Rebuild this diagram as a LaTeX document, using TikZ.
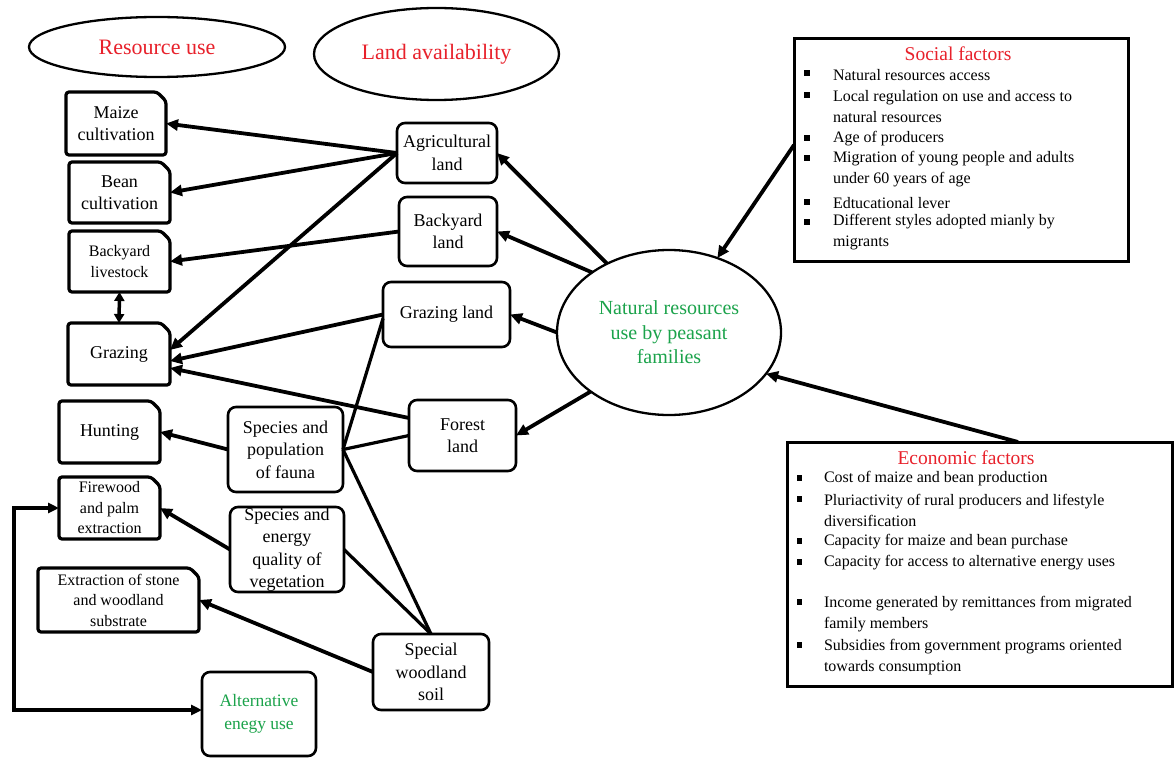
\documentclass[tikz,border=0pt]{standalone}
\usepackage{fontspec}
\setmainfont{Liberation Serif}
\usetikzlibrary{arrows.meta,shapes.geometric}
\definecolor{tred}{HTML}{E8212B}
\definecolor{tgreen}{HTML}{1BA34B}
\begin{document}
\begin{tikzpicture}[x=1pt,y=-1pt,
  every node/.style={inner sep=0pt, outer sep=0pt},
  lbox/.style={rectangle, align=center, font=\fontsize{18}{22.5}\selectfont},
  sbox/.style={rectangle, align=center, font=\fontsize{16}{20.5}\selectfont},
  snipline/.style={line width=3.2pt, rounded corners=3pt},
  rbox/.style={draw, line width=2.6pt, rounded corners=8pt, align=center, font=\fontsize{18}{22.5}\selectfont},
  oval/.style={draw, ellipse, line width=2.3pt, align=center},
  factbox/.style={draw, line width=3pt},
  item/.style={anchor=west, align=left, font=\fontsize{16}{21}\selectfont},
  bul/.style={fill=black, minimum size=5.5pt},
  ftitle/.style={text=tred, font=\fontsize{19.5}{23}\selectfont},
  arr/.style={line width=3.8pt, -{Triangle[length=12pt,width=11pt]}},
  arrboth/.style={line width=3.8pt, {Triangle[length=11pt,width=10pt]}-{Triangle[length=11pt,width=10pt]}},
  arrtwo/.style={line width=3.5pt, {Triangle[length=9pt,width=10pt]}-{Triangle[length=9pt,width=10pt]}},
  link/.style={line width=3.2pt}]
\useasboundingbox (0,0) rectangle (1174,757);
\fill[white] (0,0) rectangle (1174,757);

% top ellipses
\node[oval, minimum width=256pt, minimum height=60pt, text=tred, font=\fontsize{22}{26}\selectfont] (resuse) at (157,47) {Resource use};
\node[oval, minimum width=245pt, minimum height=92pt, text=tred, font=\fontsize{22}{26}\selectfont] (landav) at (436.5,54) {Land availability};

% left column (snipped boxes)
\node[lbox, minimum width=100pt, minimum height=63pt] (maize) at (116,123.5) {Maize\\cultivation};
\node[lbox, minimum width=101pt, minimum height=61pt] (bean) at (119.5,192.5) {Bean\\cultivation};
\node[sbox, minimum width=101pt, minimum height=61pt] (live) at (119.5,261.5) {Backyard\\livestock};
\node[lbox, minimum width=102pt, minimum height=62pt] (graz) at (119,354) {Grazing};
\node[lbox, minimum width=101pt, minimum height=62pt] (hunt) at (109.5,432) {Hunting};
\node[sbox, minimum width=101pt, minimum height=62pt] (fire) at (109.5,508) {Firewood\\and palm\\extraction};
\node[sbox, minimum width=161pt, minimum height=64pt] (extr) at (118.5,600) {Extraction of stone\\and woodland\\substrate};
\foreach \n in {maize,bean,live,graz,hunt,fire,extr}
  \draw[snipline] (\n.south west) -- (\n.north west) -- ([xshift=-9pt]\n.north east) -- ([yshift=-9pt]\n.north east) -- (\n.south east) -- cycle;

% middle boxes
\node[rbox, minimum width=100pt, minimum height=60pt] (agri) at (447,153) {Agricultural\\land};
\node[rbox, minimum width=98pt, minimum height=69pt] (backland) at (448,231.5) {Backyard\\land};
\node[rbox, minimum width=127pt, minimum height=65pt] (grazland) at (446.5,314.5) {Grazing land};
\node[rbox, minimum width=107pt, minimum height=71pt] (forest) at (462.5,435.5) {Forest\\land};
\node[rbox, minimum width=115pt, minimum height=85pt] (fauna) at (285.5,449.5) {Species and\\population\\of fauna};
\node[rbox, minimum width=114pt, minimum height=85pt] (veg) at (287,549.5) {Species and\\energy\\quality of\\vegetation};
\node[rbox, minimum width=116pt, minimum height=76pt] (soil) at (431,672) {Special\\woodland\\soil};
\node[rbox, minimum width=114pt, minimum height=84pt, text=tgreen, font=\fontsize{17.5}{23}\selectfont] (alt) at (259,714) {Alternative\\enegy use};

% central ellipse
\node[oval, minimum width=224pt, minimum height=165pt, text=tgreen, font=\fontsize{20}{24.5}\selectfont] (nat) at (669,332.5) {Natural resources\\use by peasant\\families};

% social factors
\node[factbox, minimum width=334pt, minimum height=222pt] (soc) at (961,150) {};
\node[ftitle] (soct) at (958,54) {Social factors};
\node[item] (s1) at (833,75) {Natural resources access};
\node[item] (s2) at (833,107) {Local regulation on use and access to\\natural resources};
\node[item] (s3) at (833,139) {Age of producers};
\node[item] (s4) at (833,169) {Migration of young people and adults\\under 60 years of age};
\node[item] (s5) at (833,203) {Edtucational lever};
\node[item] (s6) at (833,232.5) {Different styles adopted mianly by\\migrants};
\foreach \yy in {73,95,138,158,202,222}
  \node[bul] at (807,\yy) {};

% economic factors
\node[factbox, minimum width=385pt, minimum height=244pt] (eco) at (979.5,564) {};
\node[ftitle] (ecot) at (966,458) {Economic factors};
\node[item] (e1) at (824,479) {Cost of maize and bean production};
\node[item] (e2) at (824,510.5) {Pluriactivity of rural producers and lifestyle\\diversification};
\node[item] (e3) at (824,542) {Capacity for maize and bean purchase};
\node[item] (e4) at (824,563) {Capacity for access to alternative energy uses};
\node[item] (e5) at (824,614) {Income generated by remittances from migrated\\family members};
\node[item] (e6) at (824,657) {Subsidies from government programs oriented\\towards consumption};
\foreach \yy in {478,499,541,562,602,645}
  \node[bul] at (799.5,\yy) {};

% connectors: land -> resource use
\draw[arr] (agri.west) -- (maize.east);
\draw[arr] (agri.west) -- (bean.east);
\draw[arr] (agri.west) -- ([yshift=4pt]graz.east);
\draw[arr] (backland.west) -- (live.east);
\draw[arrtwo] (live.south) -- (graz.north);
\draw[arr] (grazland.west) -- ([yshift=-7pt]graz.east);
\draw[arr] ([yshift=-18pt]forest.north west) -- ([yshift=-14pt]graz.east);
\draw[arr] (fauna.west) -- (hunt.east);
\draw[link] (fauna.east) -- (forest.west);
\draw[link] (fauna.east) -- ([yshift=-4pt]grazland.west);
\draw[link] (fauna.east) -- (soil.north);
\draw[link] (veg.east) -- (soil.north);
\draw[arr] (veg.west) -- (fire.east);
\draw[arr] (soil.west) -- (extr.east);
\coordinate (loop) at (14,600);
\coordinate (altin) at ([yshift=4pt]alt.west);
\draw[arrboth] (fire.west) -- (fire.west -| loop) -- (altin -| loop) -- (altin);

% connectors: central ellipse
\draw[arr] (nat.132) -- (agri.east);
\draw[arr] (nat.142) -- (backland.east);
\draw[arr] (nat.180) -- (grazland.east);
\draw[arr] (nat.217) -- (forest.east);
\draw[arr] ([yshift=5pt]soc.west) -- (nat.57);
\draw[arr] ([xshift=38.5pt]eco.north) -- (nat.337);
\end{tikzpicture}
\end{document}
